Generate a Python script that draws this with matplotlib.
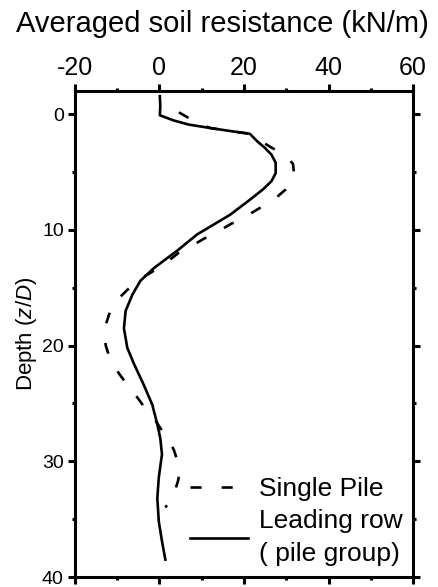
import matplotlib
matplotlib.use("Agg")
import matplotlib.pyplot as plt
from matplotlib.ticker import MultipleLocator

plt.rcParams['font.family'] = ['Liberation Sans', 'DejaVu Sans']
plt.rcParams['mathtext.fontset'] = 'custom'
plt.rcParams['mathtext.rm'] = 'Liberation Sans'
plt.rcParams['mathtext.it'] = 'Liberation Sans:italic'
plt.rcParams['axes.unicode_minus'] = False

# Leading row (pile group) - averaged soil resistance (kN/m) vs depth (z/D)
lead_x = [0.1, 0.2, 0.1, 3.4, 6.9, 12, 17.5, 21.4, 23, 24.9, 26.5, 27.5, 27.5, 26.5,
          24.5, 21.4, 16.7, 8.9, 4.2, -1.3, -4.5, -6.4, -8.0, -8.4, -7.6, -6.0, -3.7,
          -1.7, -0.5, 0.2, 0.6, -0.15, -0.5, -0.15, 0.6, 1.4]
lead_z = [-1.55, -0.7, 0.1, 0.55, 0.9, 1.2, 1.5, 1.7, 2.3, 2.9, 3.5, 4.2, 5.1, 5.8,
          6.5, 7.4, 8.7, 10.4, 11.8, 13.3, 14.4, 15.6, 17.0, 18.5, 20.2, 21.6, 23.4,
          25.1, 26.8, 28.0, 29.4, 31.4, 33.2, 35.2, 36.9, 38.5]

# Single pile
single_x = [4.6, 7.0, 10, 12, 17.5, 21.4, 23, 26.1, 29.9, 31.6, 31.8, 31.2, 29.9, 28,
            25.7, 23.8, 21.5, 19.5, 17.1, 15, 12.8, 10.6, 8.5, 6.5, 4.5, 1, -2.5, -5.6,
            -6.8, -9, -10.8, -11.9, -12.7, -13.1, -12.7, -12, -10.9, -9.6, -8.2, -6.8,
            -5.2, -3.6, -2.1, -0.9, 0.7, 2.2, 3.4, 4.3, 4.8, 4.4, 3.7, 2.7, 1.4]
single_z = [-0.15, 0.35, 0.9, 1.2, 1.5, 1.7, 2.1, 2.8, 3.6, 4.3, 5.0, 5.85, 6.5, 7.1,
            7.7, 8.1, 8.6, 9.1, 9.45, 9.9, 10.4, 10.75, 11.2, 11.6, 12.0, 13.0, 13.8,
            14.4, 14.9, 15.7, 16.4, 17.3, 18.2, 19.0, 20.0, 20.8, 21.6, 22.4, 23.1,
            23.8, 24.5, 25.3, 26.0, 26.5, 27.4, 28.2, 29.0, 30.0, 30.9, 31.7, 32.5,
            33.3, 34.0]

fig = plt.figure(figsize=(4.38, 5.87), dpi=100)
ax = fig.add_axes([0.171, 0.017, 0.772, 0.828])

ax.plot(single_x, single_z, color='black', lw=1.9, linestyle=(0, (4.2, 7.6)),
        label='Single Pile')
ax.plot(lead_x, lead_z, color='black', lw=1.9, label='Leading row\n( pile group)')

ax.set_xlim(-20, 60)
ax.set_ylim(40, -2)
ax.xaxis.set_major_locator(MultipleLocator(20))
ax.xaxis.set_minor_locator(MultipleLocator(10))
ax.yaxis.set_major_locator(MultipleLocator(10))
ax.yaxis.set_minor_locator(MultipleLocator(5))

ax.xaxis.tick_top()
ax.xaxis.set_label_position('top')
ax.tick_params(which='both', direction='out', top=True, bottom=True, left=True, right=True,
               labeltop=True, labelbottom=False, labelleft=True, labelright=False, width=2.2)
ax.tick_params(which='major', length=5)
ax.tick_params(which='minor', length=2.5)
ax.tick_params(axis='x', labelsize=18, pad=3)
ax.tick_params(axis='y', labelsize=14, pad=3)
for sp in ax.spines.values():
    sp.set_linewidth(2.2)

ax.set_xlabel('Averaged soil resistance (kN/m)', fontsize=21)
ax.xaxis.set_label_coords(0.437, 1.121)
ax.set_ylabel('Depth ($z/D$)', fontsize=16)
ax.yaxis.set_label_coords(-0.106, 0.5)

leg = ax.legend(loc='lower right', frameon=False, fontsize=19, handlelength=2.2,
                handletextpad=0.4, labelspacing=0.3, borderaxespad=0.0)
leg.get_texts()[1].set_linespacing(1.5)

fig.savefig('out.png', dpi=100)
